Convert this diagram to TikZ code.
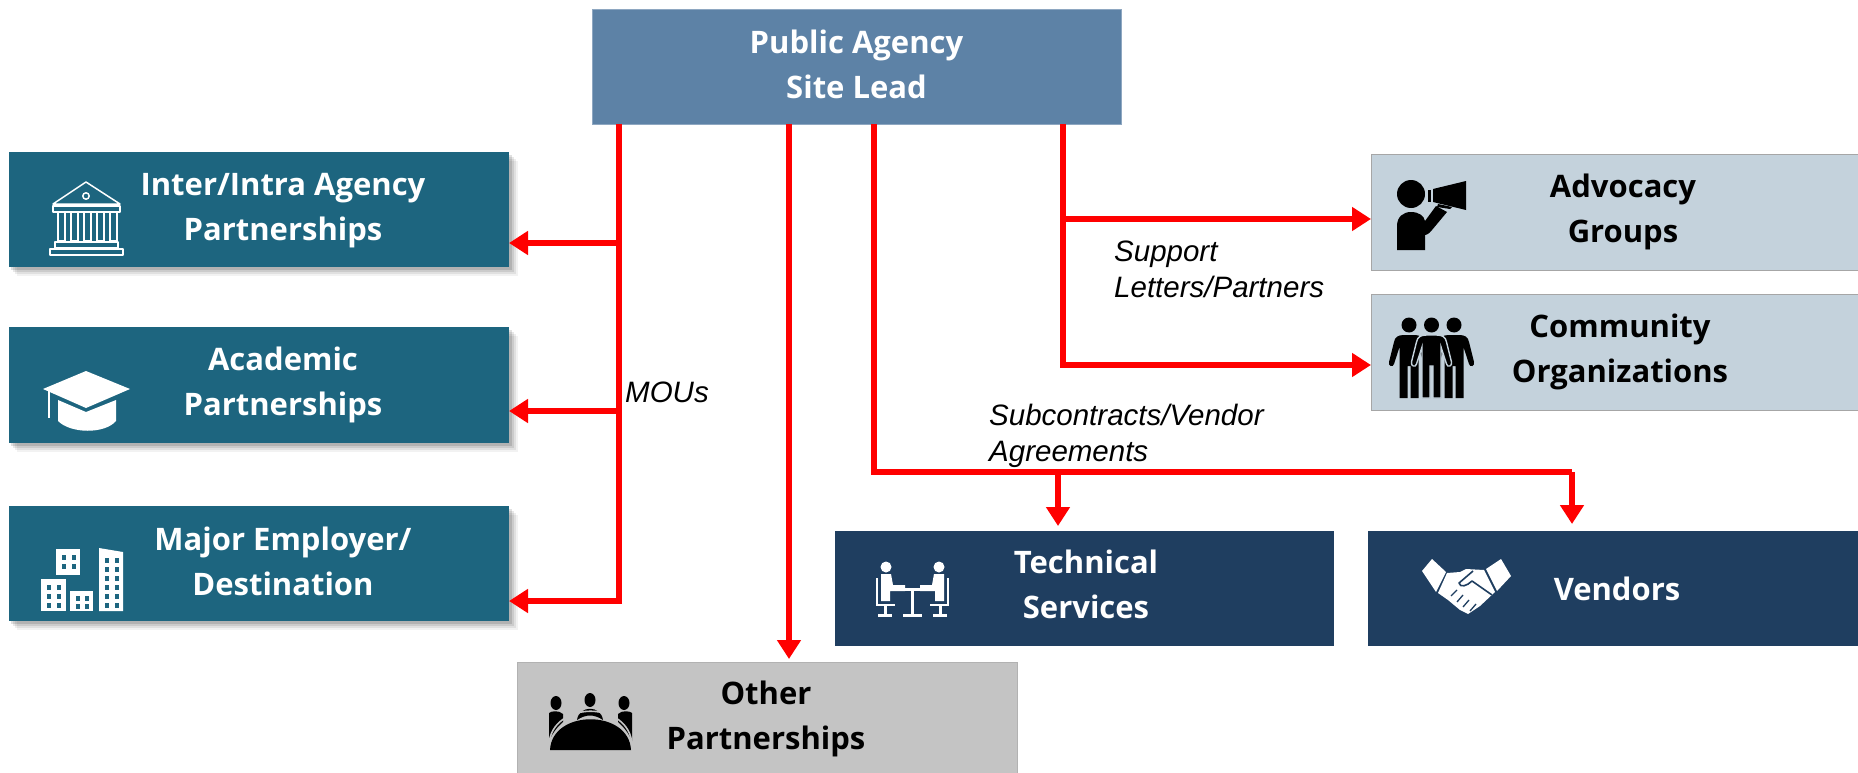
\documentclass[tikz,border=0pt]{standalone}
\usepackage{fontspec}
\setmainfont{Open Sans}[BoldFont={* Bold}]
\newfontfamily\labelfont{Liberation Sans}
\usetikzlibrary{arrows.meta}
\definecolor{pubblue}{HTML}{5D82A6}
\definecolor{teal}{HTML}{1D657F}
\definecolor{navy}{HTML}{1F3E60}
\definecolor{pale}{HTML}{C4D2DC}
\definecolor{greybox}{HTML}{C4C4C4}
\definecolor{redline}{HTML}{FF0000}
\tikzset{
  x=1pt,y=-1pt,
  boxbase/.style={anchor=north west,inner sep=0pt,outer sep=0pt},
  pubbox/.style={boxbase,fill=pubblue,draw=pubblue!70!white,line width=.6pt},
  tealbox/.style={boxbase,fill=teal},
  navybox/.style={boxbase,fill=navy},
  palebox/.style={boxbase,fill=pale,draw=gray!70,line width=.6pt},
  greyboxst/.style={boxbase,fill=greybox,draw=gray!60,line width=.5pt},
  whitetext/.style={text=white,font=\fontsize{31}{45}\selectfont\bfseries,align=center,inner sep=0pt},
  blacktext/.style={text=black,font=\fontsize{31}{45}\selectfont\bfseries,align=center,inner sep=0pt},
  linklabel/.style={font=\labelfont\itshape\fontsize{29.5}{36}\selectfont,align=left,anchor=north west,inner sep=0pt,text=black},
  link/.style={draw=redline,line width=6pt},
  linkarrow/.style={link,-{Triangle[length=19pt,width=23pt]}},
}
\newcommand{\shadowfor}[4]{%
  \foreach \d/\o in {9/.05,7/.07,5/.09,3/.12}{
    \fill[black,opacity=\o] (#1+\d-1,#2+\d) rectangle (#3+\d,#4+\d);
  }}
\newcommand{\oneperson}[3][]{%
  \begin{scope}[shift={(#2,#3)}]
    \fill (0,7) circle[radius=7.5];
    \path[fill=black,#1] (-5,17) .. controls (-11,17) and (-14,19) .. (-15,24) -- (-20,44)
      .. controls (-21,48) and (-16,50) .. (-15,46) -- (-9.5,29) -- (-9.5,80) -- (-1.5,80) -- (-1.5,48) -- (1.5,48)
      -- (1.5,80) -- (9.5,80) -- (9.5,29) -- (15,46) .. controls (16,50) and (21,48) .. (20,44)
      -- (15,24) .. controls (14,19) and (11,17) .. (5,17) -- cycle;
  \end{scope}}
\begin{document}
\begin{tikzpicture}
\useasboundingbox (0,0) rectangle (1858,773);
\fill[white] (0,0) rectangle (1858,773);

% shadows
\shadowfor{9}{152}{509}{267}
\shadowfor{9}{327}{509}{443}
\shadowfor{9}{506}{509}{621}

% boxes
\node[pubbox,minimum width=529pt,minimum height=115pt] (pub) at (592,9) {};
\node[tealbox,minimum width=500pt,minimum height=115pt] (inter) at (9,152) {};
\node[tealbox,minimum width=500pt,minimum height=116pt] (acad) at (9,327) {};
\node[tealbox,minimum width=500pt,minimum height=115pt] (major) at (9,506) {};
\node[palebox,minimum width=490pt,minimum height=116pt] (adv) at (1371,154) {};
\node[palebox,minimum width=490pt,minimum height=116pt] (comm) at (1371,294) {};
\node[navybox,minimum width=499pt,minimum height=115pt] (tech) at (835,531) {};
\node[navybox,minimum width=490pt,minimum height=115pt] (vend) at (1368,531) {};
\node[greyboxst,minimum width=500pt,minimum height=112pt] (other) at (517,662) {};

% texts
\node[whitetext] (tpub) at (856.5,64) {Public Agency\\Site Lead};
\node[whitetext] (tinter) at (283,211) {Inter/Intra Agency\\Partnerships};
\node[whitetext] (tacad) at (283,385) {Academic\\Partnerships};
\node[whitetext] (tmajor) at (283,561) {Major Employer/\\Destination};
\node[blacktext] (tadv) at (1623,212) {Advocacy\\Groups};
\node[blacktext] (tcomm) at (1620,352) {Community\\Organizations};
\node[whitetext] (ttech) at (1086,584) {Technical\\Services};
\node[whitetext] (tvend) at (1617,589) {Vendors};
\node[blacktext] (tother) at (766,719) {Other\\Partnerships};
\node[linklabel] (lmou) at (625,382) {MOUs};
\node[linklabel] (lsup) at (1114,241) {Support\\Letters/Partners};
\node[linklabel] (lsub) at (989,404) {Subcontracts/Vendor\\Agreements};

% connectors
\coordinate (mouX) at (619,0);
\coordinate (othX) at (789,0);
\coordinate (subX) at (874,0);
\coordinate (supX) at (1063,0);
\coordinate (bi) at (0,243);
\coordinate (ba) at (0,411);
\coordinate (bm) at (0,601);
\coordinate (ty) at (0,472);
\coordinate (bs) at (0,219);
\coordinate (bc) at (0,365);
\coordinate (tX) at (1058,0);
\coordinate (vX) at (1572,0);
\draw[link] (mouX |- pub.south) -- ([yshift=-3pt]mouX |- bm);
\draw[linkarrow] (mouX |- bi) -- (inter.east |- bi);
\draw[linkarrow] (mouX |- ba) -- (acad.east |- ba);
\draw[linkarrow] ([xshift=3pt]mouX |- bm) -- (major.east |- bm);
\draw[linkarrow] (othX |- pub.south) -- ([yshift=3pt]othX |- other.north);
\draw[link] (subX |- pub.south) -- (subX |- ty) -- (vX |- ty);
\draw[linkarrow] (tX |- ty) -- ([yshift=5pt]tX |- tech.north);
\draw[linkarrow] (vX |- ty) -- ([yshift=7pt]vX |- vend.north);
\draw[link] (supX |- pub.south) -- (supX |- bc);
\draw[linkarrow] (supX |- bs) -- (adv.west |- bs);
\draw[linkarrow] ([xshift=-3pt]supX |- bc) -- (comm.west |- bc);

% icon: bank
\begin{scope}[shift={(49,181)},draw=white,line width=1.5pt,line join=round]
  \draw (4,23) -- (37,1) -- (71,23) -- cycle;
  \draw (37,15) circle[radius=3.2];
  \draw (4,25) rectangle (71,31);
  \foreach \cx in {7,20,33,46,59}{\draw (\cx+2,31) rectangle (\cx+9,60);}
  \draw (6,61) rectangle (69,67);
  \draw (1,68) rectangle (74,74);
\end{scope}

% icon: mortarboard
\begin{scope}[shift={(43,371)}]
  \fill[white] (0,18) -- (43,0) -- (87,18) -- (43,37) -- cycle;
  \fill[white] (15,29) -- (43,41) -- (73,29) -- (73,50) .. controls (62,63) and (28,63) .. (15,50) -- cycle;
  \draw[white,line width=2.6pt] (6,20) -- (6,47);
\end{scope}

% icon: buildings
\begin{scope}[shift={(41,548)}]
  \fill[white] (15,1) rectangle (39,27);
  \fill[white] (0,31) rectangle (25,63);
  \fill[white] (29,43) rectangle (52,63);
  \fill[white] (58,0) -- (82,4) -- (82,63) -- (58,63) -- cycle;
  \foreach \a/\b in {21/7,31/7,21/16,31/16,
    6/37,16/37,6/46,16/46,6/55,16/55,
    35/48,44/48,35/56,44/56,
    64/10,74/10,64/19,74/19,64/28,74/28,64/37,74/37,64/46,74/46,64/55,74/55}{
    \fill[teal] (\a,\b) rectangle +(4,4.5);
  }
  \fill[teal] (25,27) rectangle (29,33);
\end{scope}

% icon: megaphone
\begin{scope}[shift={(1396,180)}]
  \fill (15,14) circle[radius=14];
  \fill (1,70) -- (1,46) .. controls (1,37) and (7,32) .. (15,32) .. controls (23,32) and (28,36) .. (29,41)
     -- (40,26) -- (51,32) -- (36,50) .. controls (33,54) and (30,55) .. (29,55) -- (29,70) -- cycle;
  \fill (32,10) rectangle (34.5,22);
  \fill (37,9) -- (70,1) -- (70,30) -- (37,22) -- cycle;
  \fill (42,24) -- (56,27) -- (54,29) -- (41,27) -- cycle;
\end{scope}

% icon: three people
\begin{scope}[shift={(1388,318)}]
  \oneperson{21}{0}
  \oneperson{66}{0}
  \oneperson[draw=pale,line width=1.4pt]{43.5}{0}
\end{scope}

% icon: people at a table
\begin{scope}[shift={(875,562)},white]
  \fill (11,5) circle[radius=5.5];
  \fill (64,5) circle[radius=5.5];
  \fill (6,12) -- (16,12) -- (18,23) -- (30,23) -- (30,29) -- (15,29) -- (15,39) -- (6,39) -- cycle;
  \fill (69,12) -- (59,12) -- (57,23) -- (45,23) -- (45,29) -- (60,29) -- (60,39) -- (69,39) -- cycle;
  \draw[line width=2.6pt] (2,16) -- (2,43) -- (20,43);
  \draw[line width=2.6pt] (73,16) -- (73,43) -- (55,43);
  \draw[line width=3pt] (10,43) -- (10,53) (3,53) -- (17,53);
  \draw[line width=3pt] (65,43) -- (65,53) (58,53) -- (72,53);
  \draw[line width=3pt] (23,27) -- (52,27);
  \draw[line width=3pt] (37.5,27) -- (37.5,53) (28,53) -- (47,53);
\end{scope}

% icon: handshake
\begin{scope}[shift={(1422,559)}]
  \fill[white] (0,12) -- (10,0) -- (24,13) -- (14,33) -- cycle;
  \fill[white] (89,17) -- (79,0) -- (64,10) -- (75,32) -- cycle;
  \fill[white] (25,14) -- (38,13) -- (44,10) -- (62,11) -- (73,33) -- (58,47) -- (46,55)
     -- (38,51) -- (26,41) -- (16,34) -- cycle;
  \draw[navy,line width=1.6pt,line join=round] (51,12) -- (37,24) .. controls (38,29) and (45,27) .. (50,22) -- (70,36);
  \draw[navy,line width=1.3pt] (29,37) -- (35,31) (35,43) -- (41,36) (41,48) -- (47,41) (48,52) -- (54,45);
\end{scope}

% icon: group around a table
\begin{scope}[shift={(549,694)}]
  \fill (7,9) ellipse[x radius=5.5,y radius=7];
  \fill (41,6) ellipse[x radius=5.5,y radius=7];
  \fill (75,9) ellipse[x radius=5.5,y radius=7];
  \fill (0,19) .. controls (2,17) and (10,16) .. (14,20) -- (14,28) .. controls (8,33) and (3,40) .. (0,47) -- cycle;
  \fill (83,19) .. controls (81,17) and (73,16) .. (69,20) -- (69,28) .. controls (75,33) and (80,40) .. (83,47) -- cycle;
  \fill (28,26) .. controls (30,11) and (52,11) .. (54,26) .. controls (45,20) and (37,20) .. (28,26) -- cycle;
  \fill (1,56) .. controls (3,15) and (80,15) .. (82,56) -- cycle;
  \draw[greybox,line width=1.6pt] (0,51) .. controls (2,6) and (81,6) .. (83,51);
\end{scope}
\end{tikzpicture}
\end{document}
